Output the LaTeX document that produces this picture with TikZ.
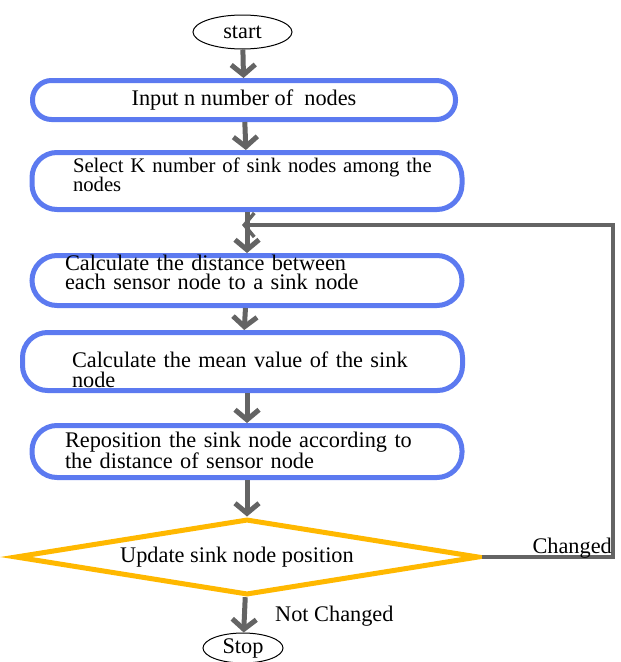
\documentclass[tikz,border=0pt]{standalone}
\usepackage{fontspec}
\setmainfont{Liberation Serif}
\usetikzlibrary{shapes.geometric,arrows.meta,positioning}

\definecolor{boxblue}{RGB}{92,122,240}
\definecolor{decgold}{RGB}{255,184,0}
\definecolor{flowgray}{RGB}{100,100,100}

\tikzset{
  stepbox/.style={draw=boxblue,line width=5pt,rounded corners=25pt,minimum width=430pt,
    minimum height=52pt,inner sep=0pt},
  steptext/.style={align=left,inner sep=0pt},
  term/.style={draw,ellipse,line width=1pt,inner sep=0pt},
  flow/.style={draw=flowgray,line width=5pt,-{Straight Barb[length=10pt,width=24pt]}},
}

\begin{document}
\begin{tikzpicture}[x=1pt,y=1pt,font=\fontsize{22.3}{19.5}\selectfont]
  \useasboundingbox (0,0) rectangle (621,-662);
  \node[term,minimum width=99pt,minimum height=34pt] (start) at (242.5,-32) {start};
  \node[stepbox,minimum width=423pt,minimum height=39pt,rounded corners=19pt] (input) at (244,-100) {Input n number of \ nodes};

  \node[stepbox,minimum height=57pt] (select) at (247,-181) {};
  \node[steptext,text width=348pt,font=\fontsize{20.7}{19.5}\selectfont] (selecttext) at ([yshift=6pt]select.center)
    {\mbox{Select K number of sink nodes among the}\\nodes};
  \node[stepbox,minimum height=50pt] (dist) at (247,-280.5) {};
  \node[steptext,text width=364pt] (disttext) at ([yshift=8pt]dist.center)
    {Calculate the distance between\\each sensor node to a sink node};
  \node[stepbox,minimum width=440pt,minimum height=58pt] (mean) at (242.5,-361.5) {};
  \node[steptext,text width=341pt] (meantext) at ([yshift=-8.5pt]mean.center)
    {Calculate the mean value of the sink\\node};
  \node[stepbox] (repos) at (247,-451.5) {};
  \node[steptext,text width=364pt] (repostext) at ([yshift=1pt]repos.center)
    {Reposition the sink node according to\\the distance of sensor node};

  \node[diamond,draw=decgold,line width=5pt,aspect=6,minimum width=464pt,minimum height=76pt,inner sep=0pt] (update) at (247,-557)
    {Update sink node position\hspace*{20pt}};
  \node[term,minimum width=80pt,minimum height=30pt] (stop) at (243,-648) {Stop};
  \coordinate (back) at (242,-225);
  \coordinate (corner) at (613,-557);

  \draw[flow] (start) -- (input);
  \draw[flow] (input) -- (select);
  \draw[flow] (select) -- (dist);
  \draw[flow] (dist) -- (mean);
  \draw[flow] (mean.south -| dist.south) -- (repos);
  \draw[flow] (repos.south -| update.north) -- (update);
  \draw[flow] (update) -- (stop);
  \draw[flow,line width=3.5pt] (update.east) -- (corner) |- (back);

  \node[anchor=south east,inner sep=1pt] (changed) at (613,-560) {Changed};
  \node[anchor=west,inner sep=1pt] (notch) at (274,-616) {Not Changed};
\end{tikzpicture}
\end{document}
